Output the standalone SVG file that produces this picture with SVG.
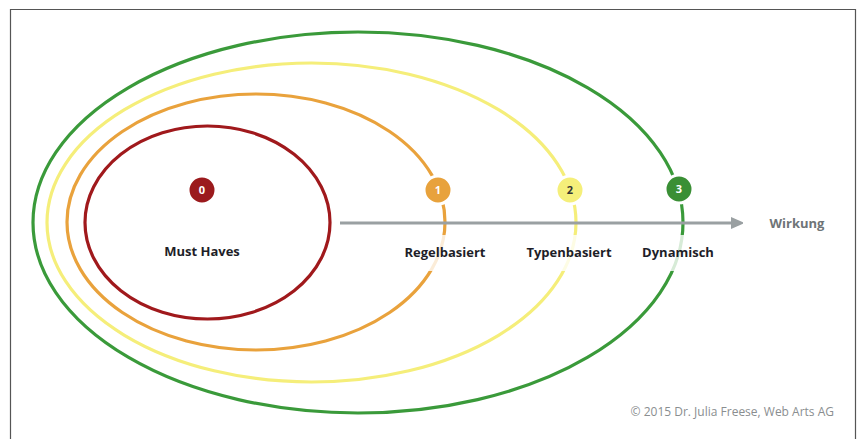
<svg xmlns="http://www.w3.org/2000/svg" width="858" height="439" viewBox="0 0 858 439">
<defs>
<style>
.ring{fill:none;stroke-width:3.2}
.lbl{font-family:"Open Sans","Noto Sans",sans-serif;font-weight:bold;font-size:13px;fill:#1e1e28;text-anchor:middle}
.num{font-family:"Open Sans","Noto Sans",sans-serif;font-weight:bold;font-size:11px;text-anchor:middle}
.veil{fill:#fff;fill-opacity:0.8}
</style>
<marker id="ah" markerWidth="12" markerHeight="12" refX="2" refY="6" orient="auto" markerUnits="userSpaceOnUse">
<path d="M0,0 L14,6 L0,12 Z" fill="#9aa0a2"/>
</marker>
</defs>
<rect x="0" y="0" width="858" height="439" fill="#fff"/>
<path d="M10.5,439 V9.5 H855.5 V439" fill="none" stroke="#555" stroke-width="1.2"/>
<g id="connectors">
<g id="ring3"><ellipse class="ring" cx="358" cy="222.5" rx="325" ry="190.5" stroke="#3a9a3a"/></g>
<g id="ring2"><ellipse class="ring" cx="311.5" cy="222.5" rx="264.5" ry="159.5" stroke="#f5ee7a"/></g>
<g id="ring1"><ellipse class="ring" cx="256" cy="222" rx="189" ry="128" stroke="#e9a23c"/></g>
<g id="ring0"><ellipse class="ring" cx="207.5" cy="222.5" rx="122.5" ry="96.5" stroke="#a0191c"/></g>
<line x1="340" y1="223" x2="733" y2="223" stroke="#9aa0a2" stroke-width="3.2" marker-end="url(#ah)"/>
</g>
<rect class="veil" x="395" y="235" width="100" height="36"/>
<rect class="veil" x="520" y="235" width="100" height="36"/>
<rect class="veil" x="636" y="235" width="86" height="36"/>
<g id="node0">
<circle cx="202" cy="190" r="14" fill="#9b1a1d" stroke="#fff" stroke-width="3"/>
<text class="num" x="202" y="194" fill="#fff">0</text>
<text class="lbl" x="202" y="256">Must Haves</text>
</g>
<g id="node1">
<circle cx="438" cy="190" r="14" fill="#e8a23c" stroke="#fff" stroke-width="3"/>
<text class="num" x="438" y="194" fill="#fff">1</text>
<text class="lbl" x="445" y="257">Regelbasiert</text>
</g>
<g id="node2">
<circle cx="570" cy="190" r="14" fill="#f5ef7a" stroke="#fff" stroke-width="3"/>
<text class="num" x="570" y="194" fill="#333">2</text>
<text class="lbl" x="569" y="257">Typenbasiert</text>
</g>
<g id="node3">
<circle cx="679" cy="189" r="14" fill="#3a8f35" stroke="#fff" stroke-width="3"/>
<text class="num" x="679" y="193" fill="#fff">3</text>
<text class="lbl" x="678" y="257">Dynamisch</text>
</g>
<text x="797" y="228" font-family="'Open Sans','Noto Sans',sans-serif" font-weight="bold" font-size="13" fill="#6e7477" text-anchor="middle">Wirkung</text>
<text x="834" y="416" font-family="'Open Sans','Noto Sans',sans-serif" font-size="12" fill="#8a8e90" text-anchor="end">© 2015 Dr. Julia Freese, Web Arts AG</text>
</svg>
